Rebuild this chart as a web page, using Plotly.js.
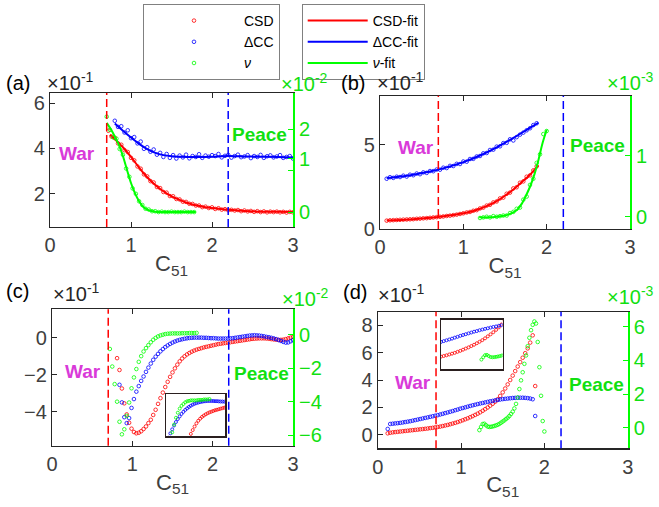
<!DOCTYPE html>
<html><head><meta charset="utf-8">
<script src="https://cdn.plot.ly/plotly-3.0.1.min.js"></script>
<style>html,body{margin:0;padding:0;background:#fff;}#chart{width:659px;height:507px;}</style>
</head><body><div id="chart"></div>
<script>
// ---------- DATA ----------
const xTicks = [0, 1, 2, 3];
const warX = 0.7;
const peaceX = 2.2;
const seriesNames = ['CSD', '\u0394CC', '<i>\u03bd</i>'];
const fitNames = ['CSD-fit', '\u0394CC-fit', '<i>\u03bd</i>-fit'];

// panel (a) markers (uniform x grid: start, step)
const aStartCSD = 0.72, aStartCC = 0.80, aStartNu = 0.70, aStep = 0.04;
const aCSD = [4.78,4.52,4.47,4.22,4.16,3.92,3.84,3.58,3.47,3.20,
  3.10,2.85,2.76,2.55,2.49,2.29,2.24,2.07,2.04,1.89,
  1.88,1.76,1.74,1.64,1.63,1.55,1.54,1.47,1.47,1.40,
  1.42,1.36,1.39,1.32,1.35,1.29,1.31,1.26,1.28,1.25,
  1.27,1.22,1.25,1.21,1.23,1.19,1.22,1.18,1.21,1.17,
  1.20,1.18,1.20,1.17,1.19,1.16,1.19,1.17];
const aCC = [5.22,4.95,4.98,4.70,4.80,4.45,4.50,4.22,4.30,3.98,
  4.05,3.85,3.95,3.72,3.80,3.62,3.75,3.58,3.70,3.55,
  3.68,3.60,3.72,3.56,3.66,3.62,3.74,3.58,3.68,3.63,
  3.70,3.66,3.75,3.60,3.67,3.71,3.59,3.66,3.72,3.61,
  3.64,3.70,3.57,3.66,3.62,3.71,3.58,3.65,3.69,3.60,
  3.64,3.70,3.58,3.62,3.66,3.55];
const aNu = [2.30,1.98,1.80,1.77,1.52,1.38,1.05,0.85,0.57,0.44,
  0.26,0.17,0.08,0.06,0.02,0.02,0.0,0.01,0.0,0.0,
  0.01,0.0,0.0,0.0,0.01,0.0,0.0,0.0];
// panel (a) fits
const aFitCSDx = [0.74,0.80,0.90,1.00,1.10,1.20,1.30,1.40,1.50,1.60,1.70,1.80,1.90,2.00,2.20,2.40,2.60,2.80,3.00];
const aFitCSDy = [4.60,4.40,4.05,3.62,3.15,2.72,2.38,2.10,1.88,1.72,1.58,1.48,1.41,1.36,1.28,1.23,1.20,1.19,1.18];
const aFitCCx = [0.80,0.90,1.00,1.10,1.20,1.30,1.40,1.50,1.60,1.80,2.00,2.20,2.40,2.60,2.80,3.00];
const aFitCCy = [5.10,4.78,4.48,4.20,3.97,3.80,3.70,3.65,3.63,3.62,3.63,3.66,3.64,3.63,3.62,3.60];
const aFitNux = [0.70,0.75,0.80,0.85,0.90,0.95,1.00,1.05,1.10,1.15,1.20,1.30,1.40,1.60,1.80];
const aFitNuy = [2.15,2.00,1.82,1.62,1.35,1.02,0.70,0.45,0.26,0.13,0.06,0.01,0.0,0.0,0.0];

// panel (b) markers
const bStart = 0.08, bStartNu = 1.20, bStep = 0.04;
const bCSD = [0.47,0.49,0.50,0.51,0.52,0.53,0.54,0.55,0.56,0.58,
  0.59,0.61,0.62,0.64,0.66,0.68,0.70,0.72,0.75,0.77,
  0.80,0.83,0.87,0.91,0.96,0.99,1.06,1.10,1.20,1.25,
  1.37,1.42,1.56,1.62,1.80,1.85,2.08,2.15,2.40,2.47,
  2.74,2.82,3.10,3.18,3.48,3.72];
const bCC = [2.98,3.07,3.03,3.10,3.08,3.16,3.11,3.22,3.19,3.29,
  3.25,3.36,3.33,3.44,3.43,3.53,3.52,3.64,3.62,3.75,
  3.74,3.87,3.86,4.01,4.00,4.16,4.17,4.31,4.34,4.50,
  4.52,4.70,4.72,4.90,4.92,5.11,5.13,5.34,5.27,5.47,
  5.62,5.74,5.88,6.00,6.19,6.30];
const bNu = [-0.02,-0.01,0.0,-0.01,0.01,0.0,0.01,0.02,0.02,0.06,
  0.08,0.13,0.15,0.28,0.33,0.52,0.62,0.88,1.02,1.35,1.40];
// panel (b) fits
const bFitCSDx = [0.08,0.3,0.5,0.7,0.9,1.0,1.1,1.2,1.3,1.4,1.5,1.6,1.7,1.8,1.9];
const bFitCSDy = [0.48,0.53,0.60,0.69,0.82,0.91,1.02,1.18,1.38,1.64,1.96,2.34,2.77,3.22,3.78];
const bFitCCx = [0.08,0.2,0.4,0.6,0.8,1.0,1.2,1.4,1.6,1.8,1.9];
const bFitCCy = [3.02,3.08,3.22,3.41,3.66,3.97,4.37,4.86,5.42,6.03,6.33];
const bFitNux = [1.19,1.3,1.4,1.5,1.6,1.65,1.7,1.75,1.8,1.85,1.9,1.95,2.0];
const bFitNuy = [-0.01,-0.01,0.0,0.02,0.07,0.12,0.21,0.34,0.49,0.68,0.92,1.20,1.42];

// panel (c) markers
const cStartCSD = 0.81, cStartCC = 0.84, cStartNu = 0.72, cStep = 0.03;
const cCSD = [-1.11,-1.75,-2.75,-3.55,-4.15,-4.60,-4.92,-5.10,-5.17,-5.14,
  -5.06,-4.94,-4.80,-4.62,-4.44,-4.18,-3.90,-3.58,-3.27,-2.97,
  -2.67,-2.39,-2.12,-1.88,-1.66,-1.46,-1.28,-1.13,-1.01,-0.91,
  -0.83,-0.76,-0.70,-0.65,-0.61,-0.57,-0.53,-0.50,-0.47,-0.44,
  -0.41,-0.38,-0.35,-0.33,-0.31,-0.29,-0.27,-0.25,-0.23,-0.21,
  -0.19,-0.17,-0.15,-0.13,-0.11,-0.09,-0.07,-0.06,-0.05,-0.04,
  -0.04,-0.04,-0.05,-0.06,-0.08,-0.10,-0.11,-0.12,-0.12,-0.11,
  -0.08,-0.04,0.0,0.03];
const cCC = [-2.55,-3.50,-4.30,-4.62,-4.35,-3.80,-3.32,-2.92,-2.62,-2.34,
  -2.10,-1.85,-1.62,-1.40,-1.20,-1.03,-0.88,-0.74,-0.62,-0.51,
  -0.42,-0.34,-0.27,-0.21,-0.16,-0.12,-0.09,-0.06,-0.04,-0.02,
  -0.01,0.0,0.0,0.0,0.0,-0.01,-0.01,-0.02,-0.03,-0.03,
  -0.04,-0.05,-0.05,-0.05,-0.05,-0.05,-0.04,-0.03,-0.01,0.01,
  0.03,0.05,0.07,0.09,0.11,0.12,0.13,0.12,0.11,0.09,
  0.07,0.04,0.02,-0.01,-0.04,-0.08,-0.13,-0.18,-0.23,-0.27,
  -0.26,-0.20,-0.14];
const cNu = [-0.85,-1.90,-2.95,-4.00,-5.20,-5.95,-5.65,-4.85,-4.05,-3.20,
  -2.55,-2.05,-1.62,-1.28,-1.00,-0.80,-0.62,-0.45,-0.30,-0.19,
  -0.10,-0.04,0.0,0.04,0.06,0.07,0.08,0.08,0.08,0.08,
  0.09,0.09,0.09,0.10,0.10,0.10,0.11];

// panel (d) markers
const dStart = 0.12, dStep = 0.03, dStartNu = 1.22, dStepNu = 0.02;
const dCSD = [0.12,0.16,0.19,0.21,0.23,0.25,0.27,0.29,0.31,0.33,
  0.35,0.37,0.39,0.41,0.43,0.45,0.47,0.50,0.52,0.55,
  0.58,0.61,0.65,0.69,0.73,0.78,0.83,0.88,0.94,1.00,
  1.07,1.14,1.21,1.29,1.37,1.46,1.55,1.65,1.76,1.88,
  2.00,2.13,2.27,2.42,2.60,2.84,3.10,3.38,3.68,4.00,
  4.32,4.65,4.98,5.30,5.62,5.95,6.30,6.72,7.25,3.56];
const dCC = [0.44,0.80,0.82,0.84,0.86,0.88,0.91,0.94,0.97,1.00,
  1.04,1.08,1.12,1.16,1.20,1.24,1.28,1.32,1.36,1.40,
  1.44,1.49,1.54,1.59,1.64,1.69,1.74,1.80,1.85,1.91,
  1.96,2.01,2.06,2.11,2.16,2.20,2.25,2.29,2.33,2.37,
  2.41,2.45,2.48,2.52,2.55,2.58,2.61,2.63,2.65,2.67,
  2.69,2.70,2.71,2.71,2.71,2.70,2.68,2.65,2.60,1.38];
const dNu = [-0.14,0.05,0.22,0.24,0.15,0.07,0.05,0.06,0.08,0.11,
  0.14,0.18,0.23,0.30,0.37,0.44,0.52,0.60,0.70,0.82,
  0.96,1.15,1.42,1.80,2.30,2.82,3.30,3.80,4.30,4.85,
  5.35,5.80,6.12,6.32,6.20,5.10,3.60,1.90,0.40,-0.22];

// ---------- STYLE ----------
const W = 659, H = 507;
const FONT = 'Liberation Sans, Arial, Helvetica, sans-serif';
const AX = '#262626';
const TICK = '#404040';
const RED = '#ff0000', BLUE = '#0000ff', GREEN = '#00ff00', GTXT = '#11e011', MAG = '#d93ad9';
const px = v => v / W;
const py = v => 1 - v / H;

const traces = [];
function mk(y, x0, dx, color, xa, ya, name, show, size) {
  traces.push({type:'scatter', mode:'markers', y:y, x0:x0, dx:dx, xaxis:xa, yaxis:ya,
    name:name, legend:'legend', showlegend:!!show, hoverinfo:'skip',
    marker:{symbol:'circle-open', size:size||3.6, color:color, line:{width:0.8, color:color}}});
}
function ln(x, y, color, xa, ya, name, show) {
  traces.push({type:'scatter', mode:'lines', x:x, y:y, xaxis:xa, yaxis:ya,
    name:name, legend:'legend2', showlegend:!!show, hoverinfo:'skip',
    line:{color:color, width:2, shape:'spline', smoothing:0.8}});
}

// (a)
mk(aCSD, aStartCSD, aStep, RED, 'x', 'y', seriesNames[0], true);
mk(aCC, aStartCC, aStep, BLUE, 'x', 'y', seriesNames[1], true);
mk(aNu, aStartNu, aStep, GREEN, 'x', 'y2', seriesNames[2], true);
ln(aFitCSDx, aFitCSDy, RED, 'x', 'y', fitNames[0], true);
ln(aFitCCx, aFitCCy, BLUE, 'x', 'y', fitNames[1], true);
ln(aFitNux, aFitNuy, GREEN, 'x', 'y2', fitNames[2], true);
// (b)
mk(bCSD, bStart, bStep, RED, 'x2', 'y3');
mk(bCC, bStart, bStep, BLUE, 'x2', 'y3');
mk(bNu, bStartNu, bStep, GREEN, 'x2', 'y4');
ln(bFitCSDx, bFitCSDy, RED, 'x2', 'y3');
ln(bFitCCx, bFitCCy, BLUE, 'x2', 'y3');
ln(bFitNux, bFitNuy, GREEN, 'x2', 'y4');
// (c)
mk(cCSD, cStartCSD, cStep, RED, 'x3', 'y5');
mk(cCC, cStartCC, cStep, BLUE, 'x3', 'y5');
mk(cNu, cStartNu, cStep, GREEN, 'x3', 'y6');
// (c) inset
mk(cCSD, cStartCSD, cStep, RED, 'x5', 'y9', null, false, 3);
mk(cCC, cStartCC, cStep, BLUE, 'x5', 'y9', null, false, 3);
mk(cNu, cStartNu, cStep, GREEN, 'x5', 'y10', null, false, 3);
// (d)
mk(dCSD, dStart, dStep, RED, 'x4', 'y7');
mk(dCC, dStart, dStep, BLUE, 'x4', 'y7');
mk(dNu, dStartNu, dStepNu, GREEN, 'x4', 'y8');
// (d) inset
mk(dCSD, dStart, dStep, RED, 'x6', 'y11', null, false, 3);
mk(dCC, dStart, dStep, BLUE, 'x6', 'y11', null, false, 3);
mk(dNu, dStartNu, dStepNu, GREEN, 'x6', 'y12', null, false, 3);

function xAx(l, r, anchor) {
  return {domain:[px(l), px(r)], anchor:anchor, range:[0,3], tickvals:xTicks,
    ticks:'inside', ticklen:5, tickwidth:1, tickcolor:AX, showline:true, linecolor:AX, linewidth:1.2,
    mirror:'ticks', showgrid:false, zeroline:false, tickfont:{size:20, color:TICK},
    title:{text:'C<sub>51</sub>', font:{size:22, color:TICK}, standoff:0}, fixedrange:true};
}
function yL(t, b, anchor, range, tickvals) {
  return {domain:[py(b), py(t)], anchor:anchor, range:range, tickvals:tickvals,
    ticks:'inside', ticklen:5, tickwidth:1, tickcolor:AX, showline:true, linecolor:AX, linewidth:1.2,
    mirror:false, showgrid:false, zeroline:false, tickfont:{size:20, color:TICK}, fixedrange:true};
}
function yR(over, anchor, range, tickvals, ticktext) {
  const o = {overlaying:over, anchor:anchor, side:'right', range:range, tickvals:tickvals,
    ticks:'inside', ticklen:5, tickwidth:1, tickcolor:GREEN, showline:true, linecolor:GREEN, linewidth:2,
    showgrid:false, zeroline:false, tickfont:{size:20, color:GTXT}, fixedrange:true};
  if (ticktext) o.ticktext = ticktext;
  return o;
}
function inX(l, r, anchor, range) {
  return {domain:[px(l), px(r)], anchor:anchor, range:range, showline:true, mirror:true,
    linecolor:'#2a1f1f', linewidth:1.5, ticks:'', showticklabels:false, showgrid:false, zeroline:false, fixedrange:true};
}
function inY(t, b, anchor, range) {
  return {domain:[py(b), py(t)], anchor:anchor, range:range, showline:true, mirror:true,
    linecolor:'#2a1f1f', linewidth:1.5, ticks:'', showticklabels:false, showgrid:false, zeroline:false, fixedrange:true};
}

const layout = {
  width:W, height:H, margin:{l:0, r:0, t:0, b:0}, paper_bgcolor:'#fff', plot_bgcolor:'rgba(0,0,0,0)',
  font:{family:FONT, color:AX}, showlegend:true,
  xaxis: xAx(50, 293, 'y'),
  yaxis: yL(93, 227, 'x', [0.52, 6.45], [2,4,6]),
  yaxis2: yR('y', 'x', [-0.36, 2.87], [0, 1, 1.28, 2], ['0', '', '1', '2']),
  xaxis2: xAx(380, 630, 'y3'),
  yaxis3: yL(95.7, 229, 'x2', [-0.03, 7.95], [0, 5]),
  yaxis4: yR('y3', 'x2', [-0.2, 1.977], [0, 1, 2]),
  xaxis3: xAx(52, 293, 'y5'),
  yaxis5: yL(309.3, 445.7, 'x3', [-5.84, 1.53], [-4, -2, 0]),
  yaxis6: yR('y5', 'x3', [-6.63, 1.52], [-6, -4, -2, 0]),
  xaxis4: xAx(377.7, 627.7, 'y7'),
  yaxis7: yL(311.7, 448.3, 'x4', [-0.97, 8.97], [0, 2, 4, 6, 8]),
  yaxis8: yR('y7', 'x4', [-1.22, 6.9], [0, 2, 4, 6]),
  xaxis5: inX(166, 225, 'y9', [1.1, 2.05]),
  yaxis9: inY(394, 436, 'x5', [-2.0, 0.4]),
  yaxis10: {overlaying:'y9', anchor:'x5', side:'right', range:[-0.7, 0.22], visible:false, fixedrange:true},
  xaxis6: inX(441, 502.5, 'y11', [0.78, 1.45]),
  yaxis11: inY(319.5, 369, 'x6', [-0.1, 2.9]),
  yaxis12: {overlaying:'y11', anchor:'x6', side:'right', range:[-0.9, 3.1], visible:false, fixedrange:true},
  legend: {x:px(143), y:py(4), xanchor:'left', yanchor:'top', bgcolor:'#fff', bordercolor:'#808080', borderwidth:1,
    font:{size:14, family:FONT, color:'#000'}, itemwidth:90, tracegroupgap:0, traceorder:'normal'},
  legend2: {x:px(301.7), y:py(4), xanchor:'left', yanchor:'top', bgcolor:'#fff', bordercolor:'#808080', borderwidth:1,
    font:{size:14, family:FONT, color:'#000'}, itemwidth:60, tracegroupgap:0, traceorder:'normal'},
  shapes: [], annotations: []
};

// War / Peace reference lines on the 4 panels
[['x','y'],['x2','y3'],['x3','y5'],['x4','y7']].forEach(([xa, ya]) => {
  layout.shapes.push({type:'line', xref:xa, yref:ya+' domain', x0:warX, x1:warX, y0:0, y1:1,
    line:{color:RED, width:1.5, dash:'8px,4px'}});
  layout.shapes.push({type:'line', xref:xa, yref:ya+' domain', x0:peaceX, x1:peaceX, y0:0, y1:1,
    line:{color:BLUE, width:1.5, dash:'8px,4px'}});
});

function ann(text, x, y, opts) {
  layout.annotations.push(Object.assign({text:text, xref:'paper', yref:'paper', x:px(x), y:py(y),
    xanchor:'left', yanchor:'middle', showarrow:false, font:{family:FONT, size:20, color:AX}}, opts||{}));
}
const panels = [
  {lab:'(a)', lx:4, ly:83, ex:45, ey:81, rex:279, rey:83, rexp:'-2', wx:77, wy:153, px_:259, py_:134},
  {lab:'(b)', lx:339, ly:83, ex:375, ey:81, rex:605, rey:81, rexp:'-3', wx:415.5, wy:148, px_:597, py_:145},
  {lab:'(c)', lx:4, ly:291, ex:51, ey:292, rex:280, rey:297, rexp:'-2', wx:83, wy:371, px_:261, py_:373},
  {lab:'(d)', lx:341, ly:292, ex:376, ey:293, rex:605, rey:295, rexp:'-3', wx:413, wy:382, px_:596, py_:384}
];
panels.forEach(p => {
  ann(p.lab, p.lx, p.ly, {font:{family:FONT, size:20, color:'#000'}});
  ann('\u00d710<sup>-1</sup>', p.ex, p.ey, {font:{family:FONT, size:20, color:AX}});
  ann('\u00d710<sup>' + p.rexp + '</sup>', p.rex, p.rey, {font:{family:FONT, size:20, color:GTXT}});
  ann('<b>War</b>', p.wx, p.wy, {xanchor:'center', font:{family:FONT, size:19, color:MAG}});
  ann('<b>Peace</b>', p.px_, p.py_, {xanchor:'center', font:{family:FONT, size:19, color:GTXT}});
});

Plotly.newPlot('chart', traces, layout, {displayModeBar:false, staticPlot:true});
</script></body></html>
